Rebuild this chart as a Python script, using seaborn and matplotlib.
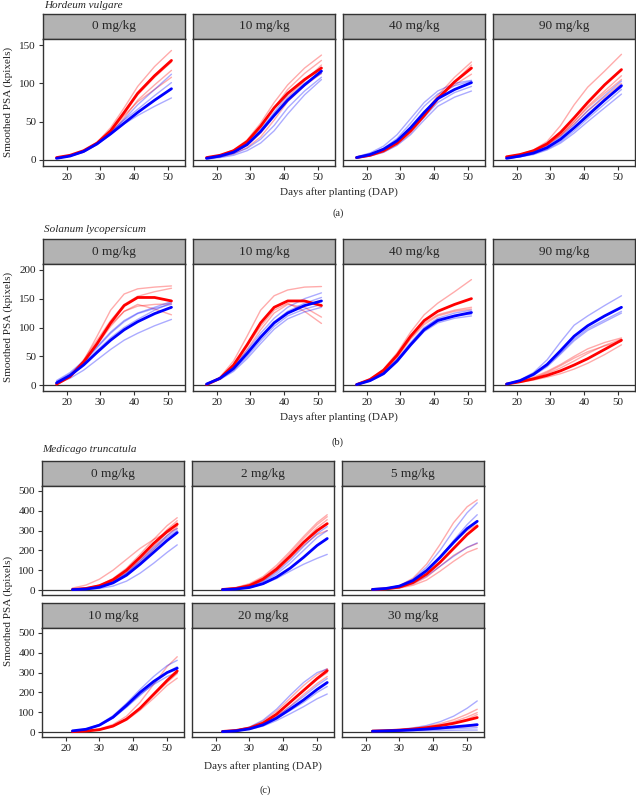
import pandas as pd
import seaborn as sns
import matplotlib.pyplot as plt

# sampling days
dap_a = [17, 21, 25, 29, 33, 37, 41, 46, 51]
dap_c = [22, 26, 30, 34, 38, 42, 46, 50, 53]

# first curve in every list = mean (thick), the rest = single plants
# ---- Hordeum vulgare
hv0_red = [[3, 6, 12, 22, 38, 62, 87, 110, 130],
           [3, 6, 12, 23, 42, 68, 96, 122, 143],
           [3, 6, 11, 21, 37, 60, 85, 108, 128],
           [3, 5, 10, 20, 35, 55, 78, 98, 117],
           [2, 5, 11, 22, 38, 58, 76, 92, 108]]
hv0_blue = [[2, 5, 11, 21, 34, 48, 62, 78, 93],
            [2, 5, 11, 21, 35, 53, 72, 92, 112],
            [2, 5, 10, 20, 33, 47, 58, 70, 81],
            [2, 5, 11, 22, 36, 52, 66, 84, 101]]
hv10_red = [[3, 6, 12, 24, 44, 68, 87, 105, 120],
            [3, 6, 13, 26, 48, 75, 98, 120, 137],
            [3, 6, 12, 24, 43, 68, 92, 113, 130],
            [3, 5, 10, 19, 35, 58, 82, 103, 124],
            [2, 4, 8, 16, 30, 52, 76, 97, 113]]
hv10_blue = [[2, 5, 10, 20, 37, 58, 78, 98, 116],
             [2, 5, 11, 22, 40, 62, 85, 105, 121],
             [2, 4, 8, 15, 27, 45, 68, 90, 108],
             [1, 3, 6, 12, 22, 38, 60, 85, 105],
             [2, 5, 10, 21, 38, 60, 80, 100, 113]]
hv40_red = [[3, 6, 12, 22, 38, 58, 80, 102, 120],
            [3, 6, 12, 22, 38, 60, 84, 108, 128],
            [3, 5, 10, 20, 35, 56, 78, 102, 124],
            [3, 6, 12, 23, 40, 62, 82, 98, 112]]
hv40_blue = [[3, 7, 14, 25, 42, 62, 80, 92, 101],
             [4, 9, 18, 33, 54, 75, 90, 100, 104],
             [3, 7, 15, 28, 48, 70, 86, 97, 103],
             [2, 5, 10, 19, 33, 52, 70, 82, 90],
             [3, 6, 12, 22, 37, 56, 75, 88, 96]]
hv90_red = [[4, 7, 12, 21, 36, 55, 75, 98, 118],
            [4, 7, 13, 24, 45, 72, 95, 116, 138],
            [3, 6, 11, 19, 32, 50, 70, 90, 110],
            [3, 6, 11, 20, 33, 50, 68, 87, 105],
            [4, 7, 12, 20, 32, 47, 64, 82, 100]]
hv90_blue = [[2, 5, 9, 16, 27, 42, 58, 78, 97],
             [3, 6, 10, 18, 30, 46, 64, 84, 103],
             [2, 4, 8, 14, 24, 38, 54, 73, 92],
             [2, 4, 7, 13, 22, 35, 50, 68, 86],
             [3, 5, 9, 16, 27, 42, 60, 79, 95]]

# ---- Solanum lycopersicum
sl0_red = [[2, 15, 40, 72, 108, 138, 152, 152, 146],
           [0, 14, 42, 85, 130, 158, 167, 170, 172],
           [2, 16, 44, 78, 112, 140, 154, 162, 168],
           [3, 16, 40, 70, 102, 128, 140, 132, 122],
           [4, 17, 42, 72, 105, 128, 137, 140, 141]]
sl0_blue = [[4, 17, 35, 57, 78, 96, 110, 124, 135],
            [8, 22, 42, 67, 92, 112, 125, 135, 145],
            [6, 20, 40, 65, 90, 110, 124, 133, 140],
            [3, 12, 26, 44, 62, 78, 90, 103, 114],
            [5, 18, 37, 60, 82, 100, 114, 130, 143]]
sl10_red = [[1, 12, 35, 70, 108, 135, 146, 146, 138],
            [1, 14, 42, 85, 130, 155, 165, 170, 171],
            [2, 13, 35, 68, 102, 130, 142, 128, 107],
            [2, 12, 32, 62, 96, 125, 140, 135, 118]]
sl10_blue = [[2, 12, 29, 55, 83, 108, 125, 138, 146],
             [2, 13, 32, 60, 90, 116, 135, 150, 160],
             [2, 12, 30, 56, 85, 110, 128, 142, 152],
             [2, 10, 24, 46, 72, 97, 115, 127, 135],
             [2, 11, 26, 50, 77, 102, 120, 132, 140]]
sl40_red = [[1, 10, 26, 52, 85, 112, 128, 140, 150],
            [1, 11, 28, 56, 92, 122, 142, 162, 183],
            [2, 10, 25, 50, 82, 108, 122, 130, 135],
            [2, 9, 23, 48, 80, 105, 120, 128, 132]]
sl40_blue = [[1, 8, 20, 42, 70, 96, 112, 120, 126],
             [2, 9, 22, 45, 74, 100, 116, 125, 130],
             [1, 8, 21, 43, 72, 98, 114, 121, 123],
             [1, 7, 19, 40, 68, 93, 108, 116, 120]]
sl90_red = [[2, 6, 11, 17, 25, 35, 46, 62, 78],
            [2, 7, 14, 24, 36, 50, 63, 74, 82],
            [2, 6, 12, 20, 30, 42, 55, 69, 80],
            [2, 5, 9, 14, 20, 28, 38, 53, 70],
            [2, 6, 12, 22, 34, 47, 58, 68, 76]]
sl90_blue = [[2, 8, 19, 36, 60, 85, 103, 120, 135],
             [2, 9, 22, 44, 75, 104, 120, 138, 155],
             [2, 8, 18, 34, 56, 80, 98, 113, 128],
             [2, 7, 17, 32, 54, 77, 95, 110, 125]]

# ---- Medicago truncatula
mt0_red = [[3, 8, 22, 52, 100, 165, 235, 295, 332],
           [10, 25, 55, 100, 155, 210, 255, 290, 310],
           [4, 10, 25, 58, 110, 180, 255, 325, 365],
           [3, 8, 20, 48, 95, 160, 235, 305, 350],
           [3, 7, 18, 42, 85, 148, 220, 290, 340],
           [2, 5, 14, 35, 75, 135, 205, 275, 320]]
mt0_blue = [[2, 5, 14, 36, 75, 130, 190, 250, 290],
            [3, 7, 18, 44, 88, 148, 215, 275, 310],
            [2, 6, 16, 40, 82, 140, 205, 265, 300],
            [1, 3, 8, 20, 45, 85, 135, 190, 228]]
mt2_red = [[3, 8, 22, 55, 105, 170, 240, 300, 335],
           [5, 13, 32, 68, 125, 195, 270, 340, 380],
           [4, 11, 28, 62, 115, 185, 260, 330, 370],
           [3, 9, 25, 58, 110, 175, 245, 315, 355],
           [2, 7, 20, 48, 95, 160, 225, 280, 300]]
mt2_blue = [[2, 5, 13, 32, 65, 110, 165, 225, 260],
            [2, 7, 18, 45, 90, 150, 220, 285, 320],
            [2, 6, 16, 40, 80, 135, 200, 265, 300],
            [1, 4, 12, 30, 58, 95, 130, 160, 180]]
mt5_red = [[3, 6, 15, 38, 80, 140, 210, 280, 322],
           [3, 8, 22, 60, 130, 230, 340, 420, 455],
           [2, 5, 12, 30, 65, 120, 175, 215, 235],
           [2, 4, 10, 24, 50, 95, 145, 190, 210],
           [3, 7, 18, 45, 95, 165, 240, 300, 330]]
mt5_blue = [[3, 8, 20, 48, 98, 165, 240, 310, 347],
            [3, 8, 22, 55, 115, 200, 300, 390, 440],
            [3, 7, 18, 45, 95, 165, 250, 330, 380],
            [2, 5, 14, 34, 70, 120, 170, 215, 238],
            [3, 7, 19, 48, 100, 170, 245, 310, 345]]
mt10_red = [[2, 5, 12, 30, 65, 120, 190, 260, 308],
            [2, 6, 15, 38, 80, 150, 240, 330, 380],
            [2, 5, 13, 32, 68, 120, 185, 250, 295],
            [2, 4, 11, 28, 60, 110, 170, 235, 272],
            [2, 5, 13, 30, 65, 122, 190, 258, 300]]
mt10_blue = [[6, 14, 35, 75, 135, 200, 255, 300, 322],
             [6, 15, 38, 82, 145, 215, 280, 335, 362],
             [5, 12, 32, 70, 125, 185, 245, 300, 330],
             [5, 13, 34, 72, 128, 190, 240, 280, 300]]
mt20_red = [[3, 8, 20, 45, 90, 150, 210, 270, 310],
            [3, 9, 24, 55, 105, 170, 235, 290, 320],
            [3, 8, 20, 46, 92, 150, 210, 265, 300],
            [2, 6, 16, 38, 78, 130, 190, 245, 280]]
mt20_blue = [[2, 6, 16, 36, 70, 115, 162, 215, 250],
             [3, 9, 25, 60, 115, 185, 250, 300, 318],
             [2, 6, 16, 36, 68, 108, 150, 200, 230],
             [2, 5, 13, 30, 58, 92, 128, 168, 192],
             [3, 7, 18, 40, 78, 128, 180, 235, 270]]
mt30_red = [[5, 7, 10, 15, 22, 32, 44, 60, 73],
            [5, 7, 11, 18, 28, 42, 62, 90, 115],
            [5, 7, 10, 16, 24, 35, 52, 76, 98],
            [5, 6, 9, 14, 21, 31, 45, 65, 88],
            [4, 6, 8, 11, 14, 18, 23, 28, 32]]
mt30_blue = [[4, 6, 8, 11, 15, 20, 26, 32, 37],
             [5, 8, 13, 21, 33, 52, 80, 120, 157],
             [4, 5, 7, 9, 12, 15, 18, 20, 22],
             [3, 4, 5, 6, 7, 8, 9, 10, 10],
             [4, 5, 7, 10, 14, 19, 25, 33, 40]]

FONT = ['Liberation Serif', 'DejaVu Serif']
sns.set_theme(style='white')
plt.rcParams['font.family'] = FONT
plt.rcParams['font.size'] = 8

W, H = 636, 795
fig = plt.figure(figsize=(W / 100, H / 100), dpi=100)


def box(l, t, w, h):
    return [l / W, 1 - (t + h) / H, w / W, h / H]


def to_frame(dap, red, blue):
    rows = []
    for grp, curves in (('red', red), ('blue', blue)):
        for i, c in enumerate(curves):
            for d, v in zip(dap, c):
                rows.append({'dap': d, 'psa': v, 'grp': grp,
                             'curve': f'{grp}{i}', 'thick': i == 0})
    return pd.DataFrame(rows)


PAL = {'red': '#ff0000', 'blue': '#0000ff'}
EDGE = '#333333'


def panel(left, top, bottom, label, dap, red, blue, ylim, yticks, show_y, show_x=True):
    strip = fig.add_axes(box(left, top - 25, 142, 25))
    strip.set_facecolor('#b3b3b3')
    strip.set_xticks([])
    strip.set_yticks([])
    for s in strip.spines.values():
        s.set_color(EDGE)
        s.set_linewidth(1.0)
    strip.text(0.5, 0.5, label, ha='center', va='center', fontsize=9.5,
               transform=strip.transAxes)

    ax = fig.add_axes(box(left, top, 142, bottom - top))
    df = to_frame(dap, red, blue)
    sns.lineplot(data=df[~df['thick']], x='dap', y='psa', hue='grp',
                 units='curve', estimator=None, palette=PAL, alpha=0.33,
                 lw=1.0, legend=False, ax=ax, sort=False)
    sns.lineplot(data=df[df['thick']], x='dap', y='psa', hue='grp',
                 units='curve', estimator=None, palette=PAL, lw=2.0,
                 legend=False, ax=ax, sort=False)
    ax.axhline(0, color=EDGE, lw=0.9, zorder=0)
    ax.set_xlim(13, 55)
    ax.set_ylim(*ylim)
    ax.set_xticks([20, 30, 40, 50])
    ax.set_yticks(yticks)
    ax.set_xlabel('')
    ax.set_ylabel('')
    ax.tick_params(axis='both', direction='out', length=3, width=0.8,
                   color=EDGE, labelcolor='#222222', labelsize=8, pad=2,
                   bottom=show_x, left=show_y)
    if not show_y:
        ax.set_yticklabels([])
    if not show_x:
        ax.set_xticklabels([])
    for s in ax.spines.values():
        s.set_color(EDGE)
        s.set_linewidth(1.0)
    return ax


cols = [43, 193, 343, 493]

# (a) Hordeum vulgare
row_a = [('0 mg/kg', hv0_red, hv0_blue), ('10 mg/kg', hv10_red, hv10_blue),
         ('40 mg/kg', hv40_red, hv40_blue), ('90 mg/kg', hv90_red, hv90_blue)]
for j, (lab, r, b) in enumerate(row_a):
    panel(cols[j], 39, 166, lab, dap_a, r, b, (-8, 158), [0, 50, 100, 150], j == 0)

# (b) Solanum lycopersicum
row_b = [('0 mg/kg', sl0_red, sl0_blue), ('10 mg/kg', sl10_red, sl10_blue),
         ('40 mg/kg', sl40_red, sl40_blue), ('90 mg/kg', sl90_red, sl90_blue)]
for j, (lab, r, b) in enumerate(row_b):
    panel(cols[j], 264, 391, lab, dap_a, r, b, (-10, 210), [0, 50, 100, 150, 200], j == 0)

# (c) Medicago truncatula
row_c1 = [('0 mg/kg', mt0_red, mt0_blue), ('2 mg/kg', mt2_red, mt2_blue),
          ('5 mg/kg', mt5_red, mt5_blue)]
row_c2 = [('10 mg/kg', mt10_red, mt10_blue), ('20 mg/kg', mt20_red, mt20_blue),
          ('30 mg/kg', mt30_red, mt30_blue)]
ccols = [42, 192, 342]
mt_ticks = [0, 100, 200, 300, 400, 500]
for j, (lab, r, b) in enumerate(row_c1):
    panel(ccols[j], 486, 595, lab, dap_c, r, b, (-25, 525), mt_ticks, j == 0, show_x=False)
for j, (lab, r, b) in enumerate(row_c2):
    panel(ccols[j], 628, 737, lab, dap_c, r, b, (-25, 525), mt_ticks, j == 0)


def ftext(x, y, s, **kw):
    fig.text(x / W, 1 - y / H, s, **kw)


ftext(44, 6, 'Hordeum vulgare', style='italic', fontsize=8, va='center')
ftext(44, 229, 'Solanum lycopersicum', style='italic', fontsize=8, va='center')
ftext(42, 450, 'Medicago truncatula', style='italic', fontsize=8, va='center')

ylab = 'Smoothed PSA (kpixels)'
ftext(8, 102, ylab, rotation=90, ha='center', va='center', fontsize=8)
ftext(8, 327, ylab, rotation=90, ha='center', va='center', fontsize=8)
ftext(8, 611, ylab, rotation=90, ha='center', va='center', fontsize=8)

xlab = 'Days after planting (DAP)'
ftext(339, 192, xlab, ha='center', va='center', fontsize=8)
ftext(339, 417, xlab, ha='center', va='center', fontsize=8)
ftext(263, 766, xlab, ha='center', va='center', fontsize=8)

ftext(338, 213, '(a)', ha='center', va='center', fontsize=7.5)
ftext(338, 442, '(b)', ha='center', va='center', fontsize=7.5)
ftext(265, 790, '(c)', ha='center', va='center', fontsize=7.5)

fig.savefig('out.png', dpi=100)
